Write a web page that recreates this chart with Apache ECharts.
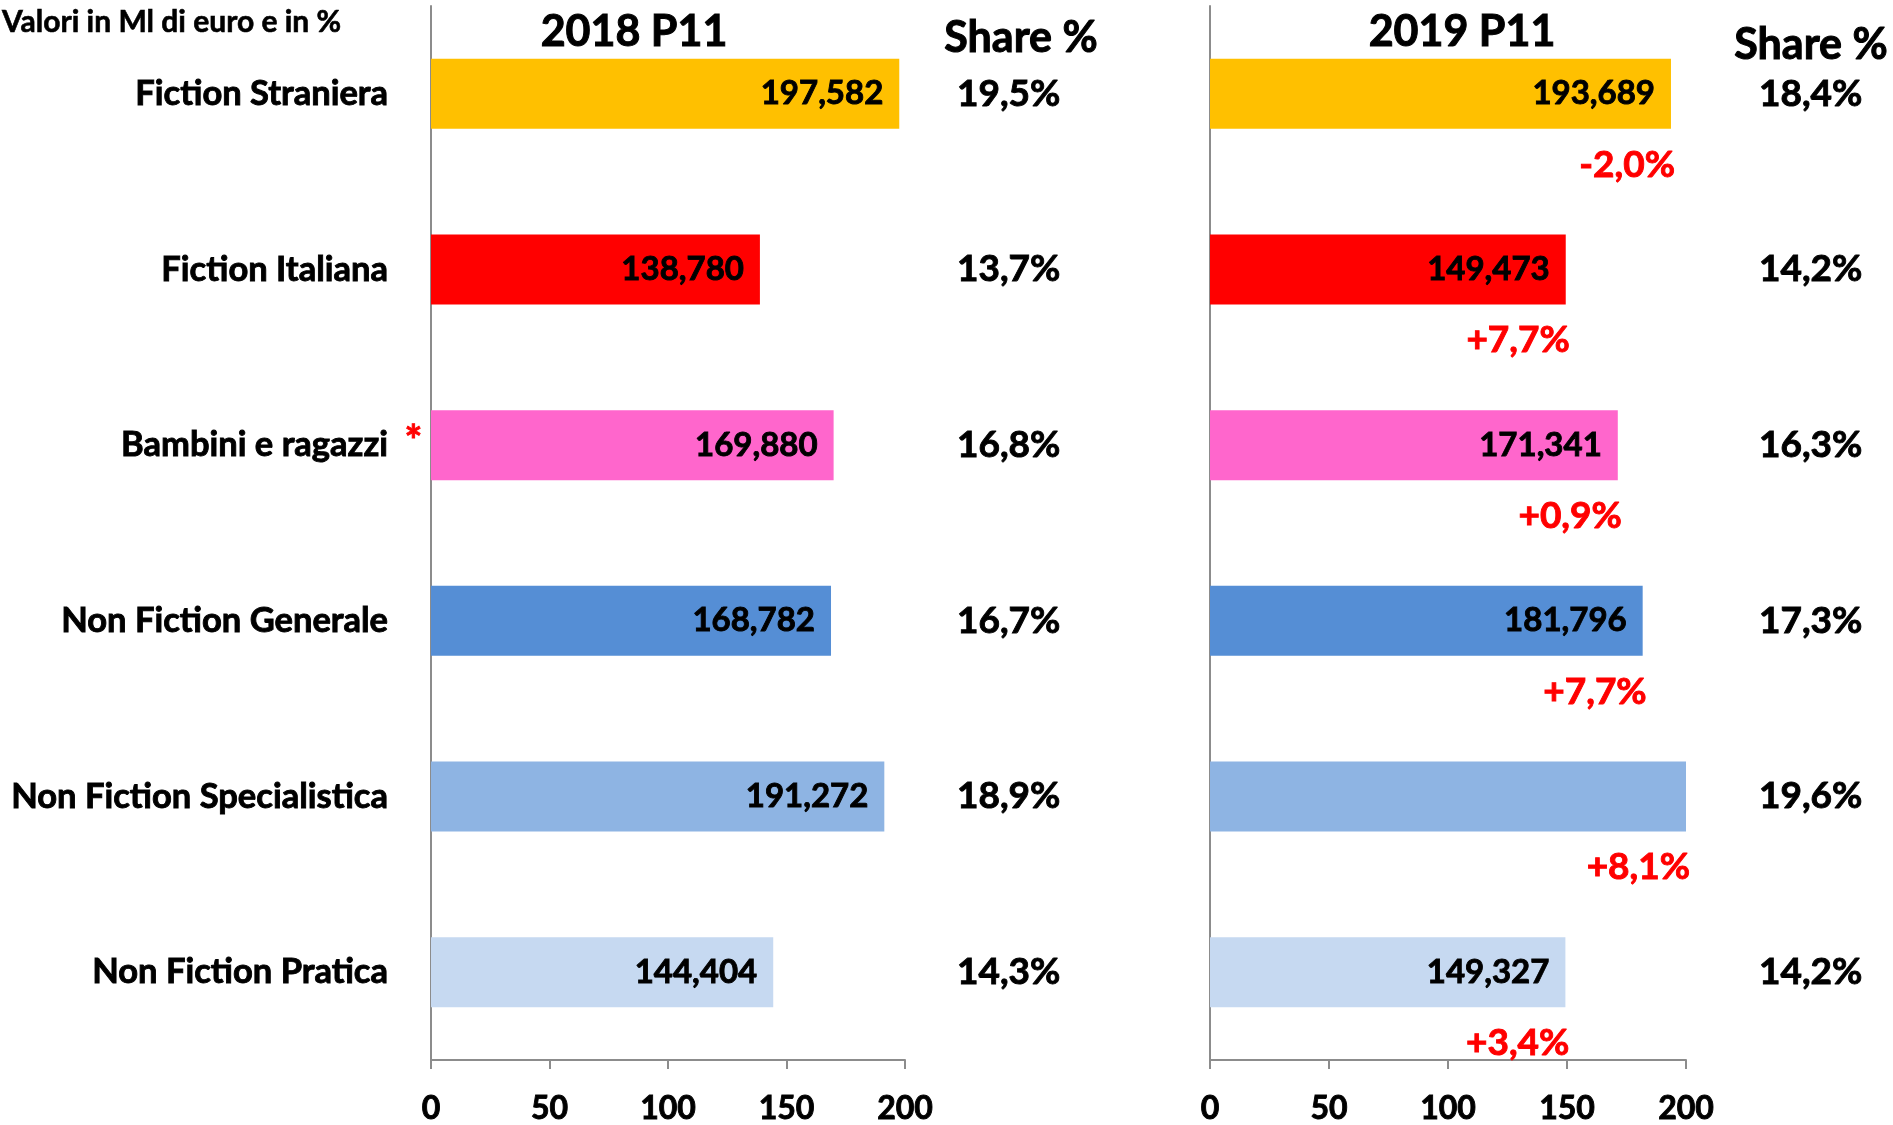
<!DOCTYPE html>
<html><head><meta charset="utf-8">
<script src="https://cdn.jsdelivr.net/npm/echarts@6/dist/echarts.min.js"></script>
<style>html,body{margin:0;padding:0;background:#fff}#c{width:1893px;height:1125px}</style>
</head><body><div id="c"></div>
<script>
const categories = ['Fiction Straniera','Fiction Italiana','Bambini e ragazzi','Non Fiction Generale','Non Fiction Specialistica','Non Fiction Pratica'];
const footnoteCategories = ['Bambini e ragazzi'];
const values2018 = [197.582,138.780,169.880,168.782,191.272,144.404];
const values2019 = [193.689,149.473,171.341,181.796,206.8,149.327];
const shares2018 = [19.5,13.7,16.8,16.7,18.9,14.3];
const shares2019 = [18.4,14.2,16.3,17.3,19.6,14.2];
const changes2019 = [-2.0,7.7,0.9,7.7,8.1,3.4];
const axisMin = 0, axisMax = 200, axisStep = 50;
const titles = ['2018 P11','2019 P11'];
const shareTitle = 'Share %';
const unitNote = 'Valori in Ml di euro e in %';

const barColors = ['#FFC000','#FF0000','#FF66CC','#558ED5','#8EB4E3','#C6D9F1'];
const FONT = 'Lato,"Liberation Sans",sans-serif';
const AXIS_GRAY = '#8c8c8c';
const heavy = c => ({textBorderColor: c, textBorderWidth: 0.9});
const NB = '\u00a0';

const fmtVal = v => v.toFixed(3).replace('.', ',');
const fmtPct = v => v.toFixed(1).replace('.', ',') + '%';
const fmtChg = v => (v > 0 ? '+' : '') + v.toFixed(1).replace('.', ',') + '%';

const grids = [
  {left: 431, width: 474, top: 6, height: 1054, containLabel: false, outerBoundsMode: 'none'},
  {left: 1210, width: 476, top: 6, height: 1054, containLabel: false, outerBoundsMode: 'none'}
];

function xAxisFor(i) {
  return {
    gridIndex: i, type: 'value', min: axisMin, max: axisMax, interval: axisStep,
    axisLine: {show: true, lineStyle: {color: AXIS_GRAY, width: 2}},
    axisTick: {show: true, length: 9, lineStyle: {color: AXIS_GRAY, width: 2}},
    splitLine: {show: false},
    axisLabel: Object.assign({margin: 33, fontSize: 32, fontWeight: 'bold', color: '#000', fontFamily: FONT}, heavy('#000'))
  };
}
function catAxisFor(i, showLabels) {
  return {
    gridIndex: i, type: 'category', inverse: true, data: categories,
    axisLine: {show: true, lineStyle: {color: AXIS_GRAY, width: 2}},
    axisTick: {show: false},
    axisLabel: {
      show: showLabels, margin: 43, color: '#000', fontFamily: FONT,
      fontSize: 34.5, fontWeight: 'bold',
      formatter: n => footnoteCategories.includes(n) ? '{t|' + n + '}{s|' + NB.repeat(5) + '*}' : '{t|' + n + '}',
      rich: {
        t: Object.assign({fontSize: 34.5, fontWeight: 'bold', color: '#000', fontFamily: FONT}, heavy('#000')),
        s: Object.assign({fontSize: 42, fontWeight: 'bold', color: '#FF0000', fontFamily: FONT,
          width: 0, align: 'left', overflow: 'none', padding: [0, 0, 6, 0]}, heavy('#FF0000'))
      }
    }
  };
}
function shareAxisFor(i, shares, margin) {
  return {
    gridIndex: i, type: 'category', inverse: true, position: 'right',
    data: shares.map(fmtPct),
    axisLine: {show: false}, axisTick: {show: false}, splitLine: {show: false},
    axisLabel: Object.assign({margin: margin, fontSize: 37, fontWeight: 'bold', color: '#000', fontFamily: FONT,
      align: 'left', padding: [0, 0, 10, 0]}, heavy('#000'))
  };
}

const valueLabel = Object.assign({
  show: true, position: 'insideRight', distance: 16,
  fontSize: 33, fontWeight: 'bold', color: '#000', fontFamily: FONT,
  formatter: p => fmtVal(p.value)
}, heavy('#000'));

const option = {
  animation: false,
  grid: grids,
  xAxis: [xAxisFor(0), xAxisFor(1)],
  yAxis: [catAxisFor(0, true), shareAxisFor(0, shares2018, 52), catAxisFor(1, false), shareAxisFor(1, shares2019, 73)],
  series: [
    {
      type: 'bar', xAxisIndex: 0, yAxisIndex: 0, barWidth: 70, clip: true,
      data: values2018.map((v, k) => ({value: v, itemStyle: {color: barColors[k]}})),
      label: valueLabel
    },
    {
      type: 'bar', xAxisIndex: 1, yAxisIndex: 2, barWidth: 70, barGap: '-100%', clip: true,
      data: values2019.map((v, k) => ({value: v, itemStyle: {color: barColors[k]},
        label: {show: v <= axisMax}})),
      label: valueLabel
    },
    {
      type: 'bar', xAxisIndex: 1, yAxisIndex: 2, barWidth: 70, barGap: '-100%', clip: true, silent: true,
      itemStyle: {color: 'rgba(0,0,0,0)'}, z: 5,
      data: values2019.map(v => Math.min(v, axisMax)),
      label: Object.assign({
        show: true, position: 'insideRight', distance: 0, offset: [4, 71],
        fontSize: 37, fontWeight: 'bold', color: '#FF0000', fontFamily: FONT,
        formatter: p => fmtChg(changes2019[p.dataIndex])
      }, heavy('#FF0000'))
    }
  ],
  graphic: [
    {type: 'text', x: 2, y: 22, style: {text: unitNote, fill: '#000', font: 'bold 30px ' + FONT, align: 'left', verticalAlign: 'middle', stroke: '#000', lineWidth: 0.6}},
    {type: 'text', x: 634, y: 32, style: {text: titles[0], fill: '#000', font: 'bold 43px ' + FONT, align: 'center', verticalAlign: 'middle', stroke: '#000', lineWidth: 1}},
    {type: 'text', x: 1462, y: 32, style: {text: titles[1], fill: '#000', font: 'bold 43px ' + FONT, align: 'center', verticalAlign: 'middle', stroke: '#000', lineWidth: 1}},
    {type: 'text', x: 1021, y: 38, style: {text: shareTitle, fill: '#000', font: 'bold 43px ' + FONT, align: 'center', verticalAlign: 'middle', stroke: '#000', lineWidth: 1}},
    {type: 'text', x: 1811, y: 45, style: {text: shareTitle, fill: '#000', font: 'bold 43px ' + FONT, align: 'center', verticalAlign: 'middle', stroke: '#000', lineWidth: 1}}
  ]
};
echarts.init(document.getElementById('c')).setOption(option);
</script>
</body></html>
